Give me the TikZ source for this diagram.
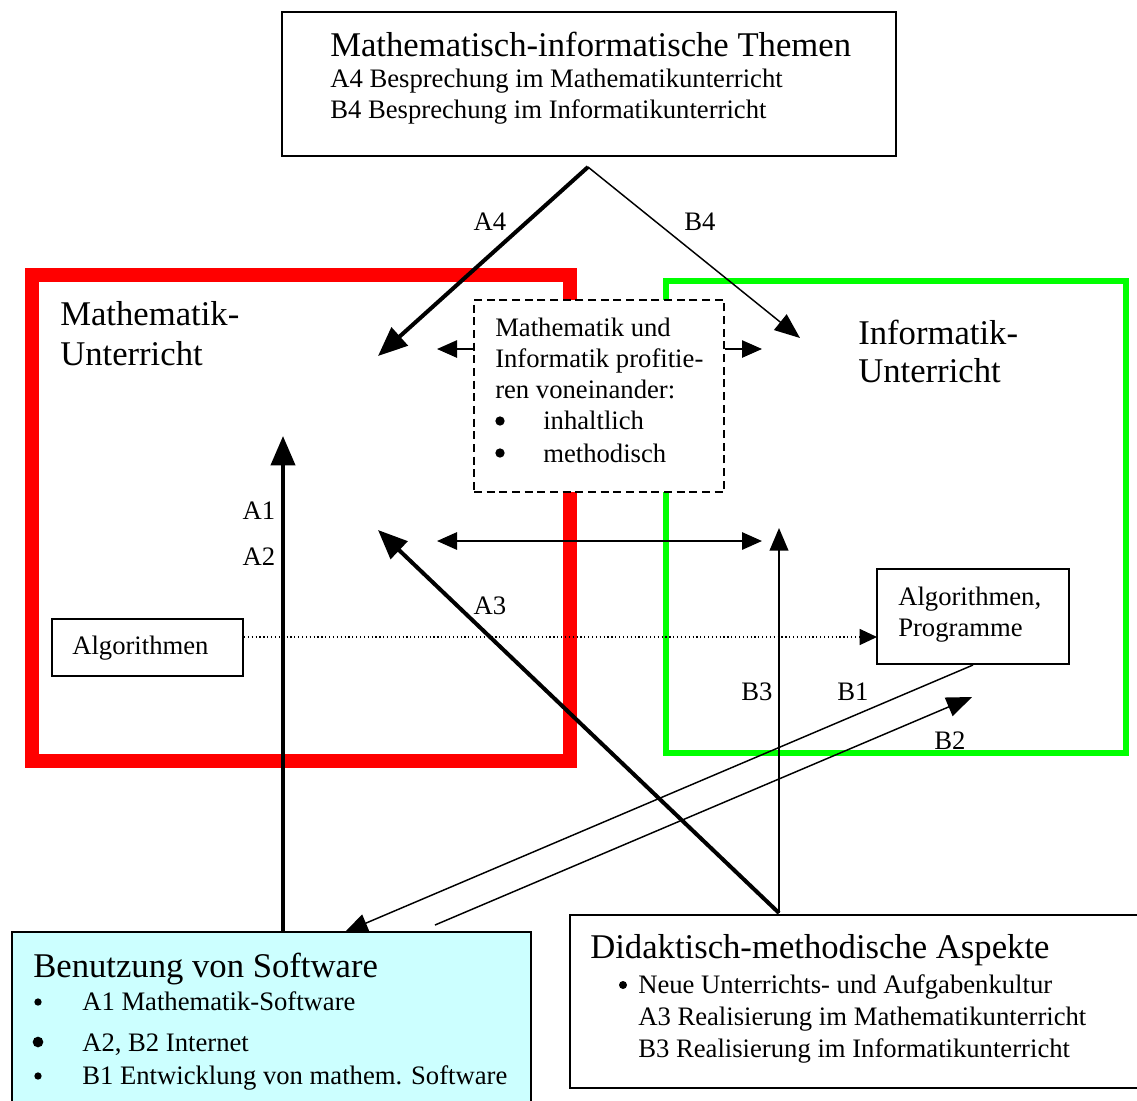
\documentclass[tikz,border=0pt]{standalone}
\usepackage{fontspec}
\setmainfont{Liberation Serif}
\usetikzlibrary{arrows.meta,fit}
\begin{document}
\begin{tikzpicture}[x=0.75pt,y=-0.75pt,
  box/.style={draw, line width=1.5pt, inner sep=0pt},
  body/.style={font=\fontsize{20}{23}\selectfont, inner sep=0pt, anchor=base west},
  headtxt/.style={font=\fontsize{26}{30}\selectfont, inner sep=0pt, anchor=base west},
  lbl/.style={font=\fontsize{20}{23}\selectfont, inner sep=0pt},
  bul/.style={circle, fill=black, inner sep=0pt, minimum size=6pt},
  thickarr/.style={line width=3pt, -{Triangle[length=22pt,width=18pt]}},
  thinarr/.style={line width=1.1pt, -{Triangle[length=19pt,width=15pt]}},
  smallarr/.style={line width=1.1pt, -{Triangle[length=15pt,width=13pt]}},
]
\clip (0,0) rectangle (1137,1100);
\fill[white] (0,0) rectangle (1137,1100);

% big frames
\node[fit={(32,275) (570,761)}, draw=red, line width=11pt, inner sep=0pt] (mathbox) {};
\node[fit={(666,281) (1126,753)}, draw={rgb,255:red,0;green,255;blue,0}, line width=4.5pt, inner sep=0pt] (infbox) {};

% top box
\node[box, fit={(282,12) (896,156)}] (top) {};
\node[headtxt] (tTitle) at (330,56) {Mathematisch-informatische Themen};
\node[body] (tA4) at (330,87) {A4 Besprechung im Mathematikunterricht};
\node[body] (tB4) at (330,118) {B4 Besprechung im Informatikunterricht};

% frame labels
\node[headtxt] (mL1) at (60,325) {Mathematik-};
\node[headtxt] (mL2) at (60,365) {Unterricht};
\node[headtxt] (iL1) at (858,344) {Informatik-};
\node[headtxt] (iL2) at (858,382) {Unterricht};

% dashed box
\node[fit={(474,300) (724,492)}, draw, fill=white, dashed, dash pattern=on 6pt off 3.5pt, line width=1.5pt, inner sep=0pt] (dash) {};
\node[body] (d1) at (495,336) {Mathematik und};
\node[body] (d2) at (495,367) {Informatik profitie-};
\node[body] (d3) at (495,398) {ren voneinander:};
\node[bul, minimum size=7pt] (d4b) at (500,421) {};
\node[body] (d4) at (543,429) {inhaltlich};
\node[bul, minimum size=7pt] (d5b) at (500,453) {};
\node[body] (d5) at (543,462) {methodisch};

% algorithm boxes
\node[box, fit={(52,619) (243,676)}] (alg) {};
\node[body] (algT) at (72,654) {Algorithmen};
\node[box, fit={(877,569) (1069,664)}] (algp) {};
\node[body] (algp1) at (898,605) {Algorithmen,};
\node[body] (algp2) at (898,636) {Programme};

% bottom boxes
\node[box, fill={rgb,255:red,204;green,255;blue,255}, fit={(12,932) (531,1110)}] (benutz) {};
\node[headtxt] (bT) at (33,977) {Benutzung von Software};
\node[bul, minimum size=5.5pt] (bb1) at (38,1002) {};
\node[body] (b1) at (82,1010) {A1 Mathematik-Software};
\node[bul, minimum size=8pt] (bb2) at (38,1042) {};
\node[body] (b2) at (82,1051) {A2, B2 Internet};
\node[bul, minimum size=5.5pt] (bb3) at (38,1076) {};
\node[body] (b3) at (82,1084) {B1 Entwicklung von mathem. Software};

\node[box, fit={(570,915) (1150,1088)}] (didakt) {};
\node[headtxt] (dT) at (590,958) {Didaktisch-methodische Aspekte};
\node[bul, minimum size=6pt] (dbb) at (623,985) {};
\node[body] (dl1) at (638,993) {Neue Unterrichts- und Aufgabenkultur};
\node[body] (dl2) at (638,1025) {A3 Realisierung im Mathematikunterricht};
\node[body] (dl3) at (638,1057) {B3 Realisierung im Informatikunterricht};

% coordinates
\coordinate (apex) at (588,167);
\coordinate (a4tip) at (378,356);
\coordinate (b4tip) at (800,338);
\coordinate (ml) at (437,349);
\coordinate (mr) at (762,349);
\coordinate (hl) at (437,541);
\coordinate (hr) at (762,541);
\coordinate (a1tip) at (283,436);
\coordinate (dk) at (779,913);
\coordinate (a3tip) at (378,530);
\coordinate (b3tip) at (779,528);
\coordinate (b1tip) at (345,932);
\coordinate (b2start) at (435,925);
\coordinate (b2tip) at (972,697);
\coordinate (dotc) at (877,637);

% arrows
\draw[thickarr] (apex) -- (a4tip);
\draw[thinarr] (apex) -- (b4tip);
\draw[smallarr] (ml -| dash.west) -- (ml);
\draw[smallarr] (mr -| dash.east) -- (mr);
\draw[line width=1.5pt, {Triangle[length=15pt,width=13pt]}-{Triangle[length=15pt,width=13pt]}] (hl) -- (hr);
\draw[thickarr] (a1tip |- benutz.north) -- (a1tip);
\draw[thickarr] (dk) -- (a3tip);
\draw[line width=1.5pt, -{Triangle[length=17pt,width=14pt]}] (dk) -- (b3tip);
\draw[line width=1.1pt, -{Triangle[length=17pt,width=14pt]}] (algp.south) -- (b1tip);
\draw[line width=1.1pt, -{Triangle[length=19pt,width=15pt]}] (b2start) -- (b2tip);
\draw[line width=0.9pt, dotted, -{Triangle[length=13pt,width=12pt]}] (dotc -| alg.east) -- (dotc);

% labels
\node[lbl] (lA4) at (490,222) {A4};
\node[lbl] (lB4) at (700,222) {B4};
\node[lbl] (lA1) at (259,511) {A1};
\node[lbl] (lA2) at (259,557) {A2};
\node[lbl] (lA3) at (490,606) {A3};
\node[lbl] (lB3) at (757,692) {B3};
\node[lbl] (lB1) at (853,692) {B1};
\node[lbl] (lB2) at (950,741) {B2};
\end{tikzpicture}
\end{document}
